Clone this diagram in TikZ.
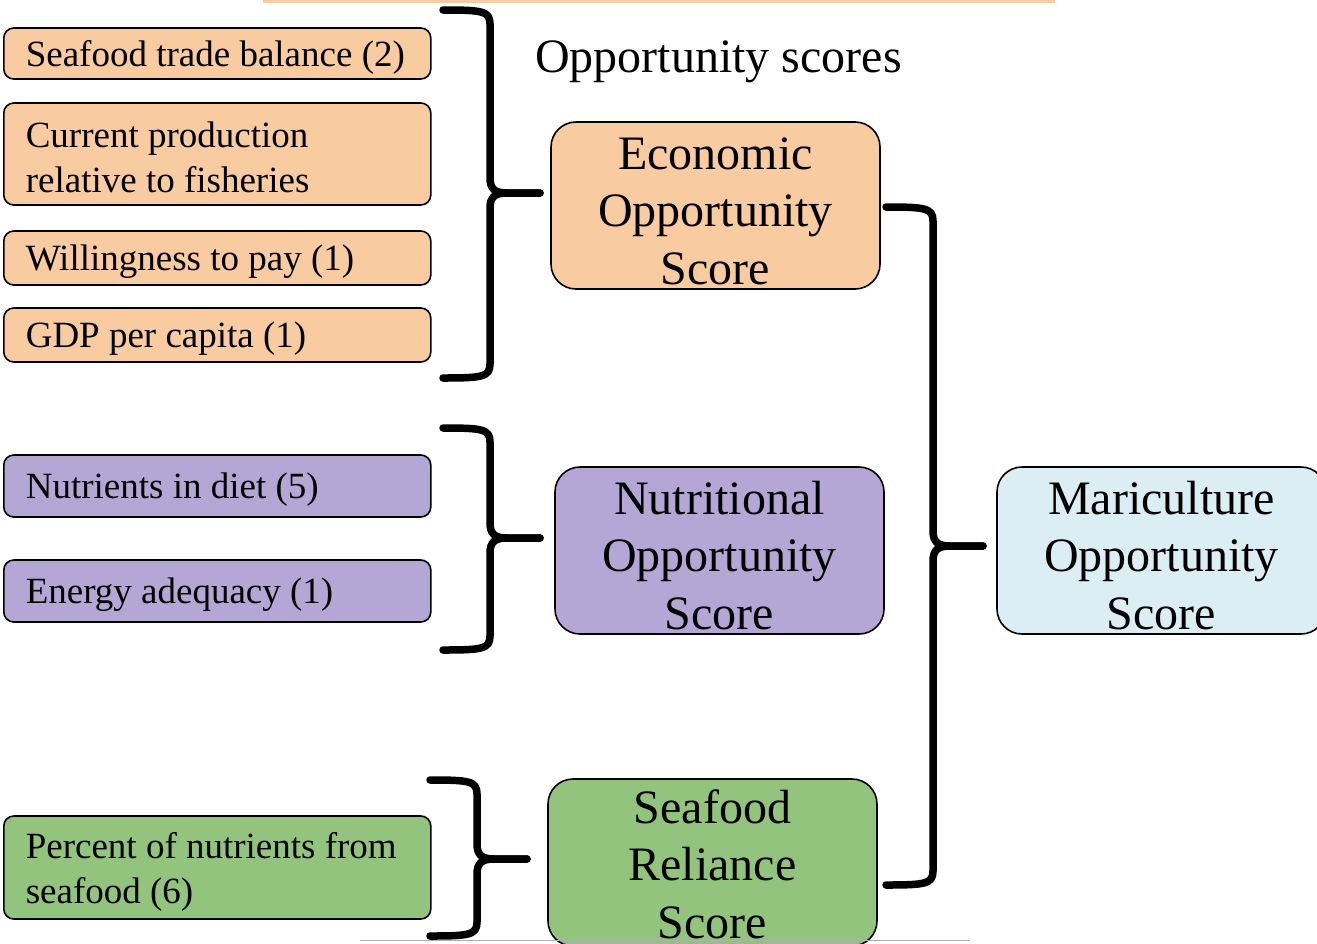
\documentclass[tikz,border=0pt]{standalone}
\usepackage{fontspec}
\setmainfont{Liberation Serif}
\definecolor{orangeF}{RGB}{248,203,160}
\definecolor{purpleF}{RGB}{180,167,214}
\definecolor{greenF}{RGB}{147,196,125}
\definecolor{blueF}{RGB}{219,238,243}
\definecolor{rulegray}{RGB}{175,175,175}
\newcommand\mybrace[6]{% x0, xv, ytop, ytip, ybot, xtip
  \draw[bracestyle] (#1,#3) .. controls (#2-8,#3) and (#2,#3+1) .. (#2,#3+14)
     -- (#2,#4-15) .. controls (#2,#4-4) and (#2+5,#4) .. (#2+17,#4) -- (#6,#4);
  \draw[bracestyle] (#6,#4) -- (#2+17,#4) .. controls (#2+5,#4) and (#2,#4+4) .. (#2,#4+15)
     -- (#2,#5-14) .. controls (#2,#5-1) and (#2-8,#5) .. (#1,#5);
}
\newcommand\dropbig{\rule{0pt}{43pt}}
\newcommand\dropsmall[1]{\rule{0pt}{#1}}
\begin{document}
\begin{tikzpicture}[x=1pt,y=-1pt,
  smallbox/.style={draw, line width=1.6pt, rounded corners=10pt, inner xsep=22pt, inner ysep=0pt,
     text width=383pt, align=left, anchor=west, font=\fontsize{37}{44.4}\selectfont,
     execute at begin node={\spaceskip=0pt\xspaceskip=0pt\relax}},
  oneline/.style={text depth=-2pt},
  bigbox/.style={draw, line width=1.6pt, rounded corners=25pt, minimum width=329pt, minimum height=167pt,
     inner sep=0pt, align=center, font=\fontsize{48}{57.6}\selectfont},
  bracestyle/.style={line width=7.5pt, line cap=round, line join=round},
  titlestyle/.style={font=\fontsize{48}{57.6}\selectfont, anchor=base west, inner sep=0pt}
]
\useasboundingbox (0,0) rectangle (1317,943);
\fill[white] (0,0) rectangle (1317,943);
\draw[orangeF, line width=3pt] (263,1.5) -- (1055,1.5);

% left boxes
\node[smallbox, oneline, fill=orangeF, minimum height=51pt] (b1) at (3,53.5) {Seafood trade balance (2)};
\node[smallbox, fill=orangeF, minimum height=102pt] (b2) at (3,154) {\dropsmall{32.5pt}Current production\\relative to fisheries};
\node[smallbox, oneline, fill=orangeF, minimum height=54pt] (b3) at (3,258) {Willingness to pay (1)};
\node[smallbox, oneline, fill=orangeF, minimum height=54pt] (b4) at (3,335) {GDP per capita (1)};
\node[smallbox, oneline, fill=purpleF, minimum height=62pt] (p1) at (3,486) {Nutrients in diet (5)};
\node[smallbox, oneline, fill=purpleF, minimum height=62pt] (p2) at (3,591) {Energy adequacy (1)};
\node[smallbox, fill=greenF, minimum height=103pt] (g1) at (3,867.5) {\dropsmall{35pt}Percent of nutrients from\\seafood (6)};

% title
\node[titlestyle] (title) at (535,72) {Opportunity scores};

% big boxes
\node[bigbox, fill=orangeF] (eco) at (715.5,205.5) {\dropbig Economic\\Opportunity\\Score};
\node[bigbox, fill=purpleF] (nut) at (719.5,550.5) {\dropbig Nutritional\\Opportunity\\Score};
\node[bigbox, fill=greenF] (sea) at (712.5,862.5) {\rule{0pt}{37pt}Seafood\\Reliance\\Score};
\node[bigbox, fill=blueF] (mar) at (1161.5,550.5) {\dropbig Mariculture\\Opportunity\\Score};

% braces
\mybrace{443}{490}{10}{193}{378}{540}
\mybrace{443}{490}{428}{538}{650}{540}
\mybrace{430}{477}{780}{859}{936}{527}
\mybrace{886}{933}{207}{546}{885}{983}

\draw[rulegray, line width=1.5pt] (360,940.5) -- (970,940.5);
\end{tikzpicture}
\end{document}
